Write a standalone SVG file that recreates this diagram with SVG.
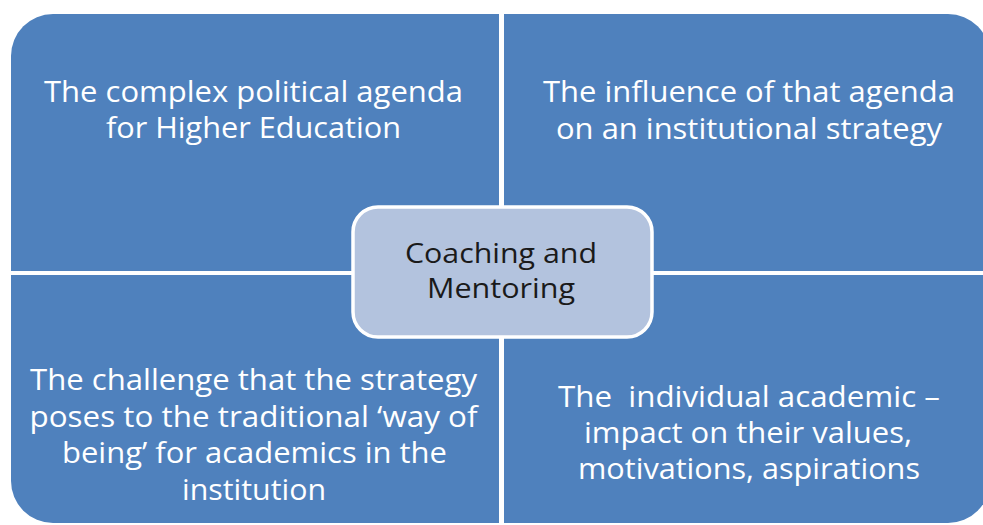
<svg xmlns="http://www.w3.org/2000/svg" width="983" height="525" viewBox="0 0 983 525">
  <style>
    .quad { fill: #4F81BD; }
    .qtext { font-family: "Open Sans", "Noto Sans", "Liberation Sans", sans-serif; font-size: 30px; fill: #ffffff; text-anchor: middle; }
    .hub { fill: #B3C3DE; stroke: #ffffff; stroke-width: 3.5; }
    .htext { font-family: "Open Sans", "Noto Sans", "Liberation Sans", sans-serif; font-size: 28px; fill: #1a1a1a; text-anchor: middle; }
  </style>

  <!-- top-left quadrant -->
  <g id="q-political-agenda">
    <path class="quad" d="M11,56 A42,42 0 0 1 53,14 H499 V271 H11 Z"/>
    <text class="qtext" x="253.5" y="102" textLength="419" lengthAdjust="spacingAndGlyphs">The complex political agenda</text>
    <text class="qtext" x="253.5" y="138" textLength="295" lengthAdjust="spacingAndGlyphs">for Higher Education</text>
  </g>

  <!-- top-right quadrant -->
  <g id="q-institutional-strategy">
    <path class="quad" d="M504,14 H948 A42,42 0 0 1 990,56 V271 H504 Z"/>
    <text class="qtext" x="749" y="102" textLength="412" lengthAdjust="spacingAndGlyphs">The influence of that agenda</text>
    <text class="qtext" x="749" y="139" textLength="386" lengthAdjust="spacingAndGlyphs">on an institutional strategy</text>
  </g>

  <!-- bottom-left quadrant -->
  <g id="q-way-of-being">
    <path class="quad" d="M11,275 H499 V523 H53 A42,42 0 0 1 11,481 Z"/>
    <text class="qtext" x="253.5" y="390" textLength="447" lengthAdjust="spacingAndGlyphs">The challenge that the strategy</text>
    <text class="qtext" x="253.5" y="427" textLength="448" lengthAdjust="spacingAndGlyphs">poses to the traditional ‘way of</text>
    <text class="qtext" x="254.5" y="463" textLength="385" lengthAdjust="spacingAndGlyphs">being’ for academics in the</text>
    <text class="qtext" x="254" y="500" textLength="144" lengthAdjust="spacingAndGlyphs">institution</text>
  </g>

  <!-- bottom-right quadrant -->
  <g id="q-individual-academic">
    <path class="quad" d="M504,275 H990 V481 A42,42 0 0 1 948,523 H504 Z"/>
    <text class="qtext" x="749" y="407" textLength="382" lengthAdjust="spacingAndGlyphs" xml:space="preserve">The  individual academic –</text>
    <text class="qtext" x="748" y="443" textLength="328" lengthAdjust="spacingAndGlyphs">impact on their values,</text>
    <text class="qtext" x="749" y="479" textLength="342" lengthAdjust="spacingAndGlyphs">motivations, aspirations</text>
  </g>

  <!-- central hub -->
  <g id="hub-coaching-mentoring">
    <rect class="hub" x="353" y="207" width="299" height="130" rx="25" ry="25"/>
    <text class="htext" x="501" y="263" textLength="192" lengthAdjust="spacingAndGlyphs">Coaching and</text>
    <text class="htext" x="501" y="298" textLength="148" lengthAdjust="spacingAndGlyphs">Mentoring</text>
  </g>

  <g id="connectors"></g>
</svg>
